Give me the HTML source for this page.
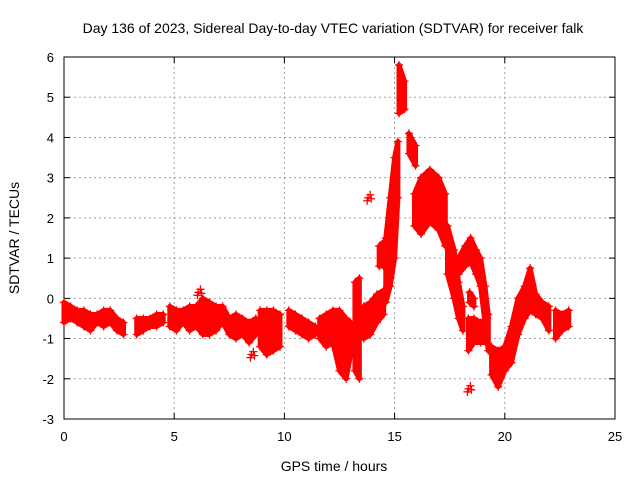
<!DOCTYPE html>
<html><head><meta charset="utf-8"><style>
body{margin:0;background:#fff}
svg{display:block;font-family:"Liberation Sans",sans-serif}
</style></head><body>
<svg id="chart" width="640" height="480" viewBox="0 0 640 480">
<rect width="640" height="480" fill="#fff"/>
<text x="333" y="33" font-size="14" text-anchor="middle">Day 136 of 2023, Sidereal Day-to-day VTEC variation (SDTVAR) for receiver falk</text>
<g id="grid"></g>
<g id="axes"></g>
<g id="marks"></g>
<text x="334" y="471" font-size="14" text-anchor="middle">GPS time / hours</text>
<text transform="translate(19,238) rotate(-90)" font-size="14" text-anchor="middle">SDTVAR / TECUs</text>
</svg>
<script>
const xTicks=[0,5,10,15,20,25];
const yTicks=[-3,-2,-1,0,1,2,3,4,5,6];
// null time = segment break
const times=[0,0.3,0.6,0.9,1.2,1.5,1.8,2.1,2.4,2.7,null,3.3,3.6,3.9,4.2,4.5,null,4.8,5.1,5.4,5.7,6.0,6.3,6.6,6.9,7.2,7.5,7.8,8.1,8.4,8.7,null,8.9,9.2,9.5,9.8,null,10.2,10.5,10.8,11.1,11.4,null,
11.6,11.9,12.2,12.5,12.8,13.0,null,13.2,13.4,null,13.6,13.9,14.2,14.5,null,14.3,14.5,null,14.6,14.8,15.0,15.15,null,15.2,15.45,null,15.65,15.95,null,
15.9,16.2,16.6,17.0,17.3,null,17.4,17.7,17.9,18.1,null,17.9,18.2,18.45,18.7,18.9,19.1,19.25,null,18.35,18.6,18.9,19.2,null,18.4,18.6,null,
19.4,19.7,20.0,20.3,20.6,20.9,21.15,21.4,21.7,22.0,null,22.3,22.6,22.9];
const lows=[-0.6,-0.5,-0.6,-0.7,-0.8,-0.6,-0.7,-0.6,-0.8,-0.9,null,-0.9,-0.8,-0.7,-0.7,-0.6,null,-0.7,-0.8,-0.6,-0.8,-0.7,-0.9,-0.9,-0.8,-0.6,-0.9,-1.0,-0.9,-1.1,-0.9,null,-1.2,-1.4,-1.3,-1.2,null,-0.7,-0.8,-0.9,-1.0,-0.9,null,
-1.0,-1.2,-1.1,-1.8,-2.0,-1.4,null,-1.8,-2.0,null,-1.0,-0.9,-0.6,-0.4,null,0.8,0.8,null,-0.1,0.3,1.0,2.5,null,4.6,4.7,null,3.6,3.3,null,
1.8,1.6,1.9,1.7,1.3,null,0.6,0.0,-0.5,-0.8,null,0.6,0.8,0.9,0.6,0.3,-0.6,-1.3,null,-1.3,-1.1,-1.1,-1.1,null,-0.1,-0.2,null,
-1.9,-2.2,-1.8,-1.6,-0.9,-0.5,-0.3,-0.4,-0.5,-0.8,null,-1.0,-0.8,-0.7];
const highs=[-0.1,-0.2,-0.3,-0.3,-0.4,-0.4,-0.3,-0.3,-0.5,-0.6,null,-0.5,-0.5,-0.5,-0.4,-0.4,null,-0.2,-0.3,-0.3,-0.2,-0.2,0.0,-0.1,-0.2,-0.2,-0.5,-0.4,-0.5,-0.6,-0.5,null,-0.3,-0.3,-0.3,-0.4,null,-0.3,-0.4,-0.5,-0.6,-0.7,null,
-0.5,-0.4,-0.3,-0.3,-0.5,-0.6,null,0.4,0.5,null,-0.2,-0.1,0.1,0.2,null,1.3,1.4,null,1.5,2.5,3.5,3.9,null,5.8,5.4,null,4.1,3.8,null,
2.6,3.0,3.2,3.0,2.6,null,1.8,1.2,0.4,-0.2,null,1.0,1.3,1.5,1.2,1.0,0.3,-0.4,null,-0.5,-0.5,-0.6,-0.5,null,0.15,0.0,null,
-1.2,-1.3,-1.2,-0.7,0.0,0.3,0.75,0.1,-0.1,-0.2,null,-0.3,-0.4,-0.3];
const extraT=[8.5,13.8,18.35,6.1];
const extraV=[-1.4,2.5,-2.25,0.15];
const X0=64,X1=615,Y0=419,Y1=57;
const xs=t=>X0+(t-0)/(25-0)*(X1-X0);
const ys=v=>Y0-(v-(-3))/(6-(-3))*(Y0-Y1);
const NS="http://www.w3.org/2000/svg";
const mk=(tag,attrs,parent)=>{const e=document.createElementNS(NS,tag);for(const k in attrs)e.setAttribute(k,attrs[k]);parent.appendChild(e);return e;};
const grid=document.getElementById('grid'),axes=document.getElementById('axes'),marks=document.getElementById('marks');
xTicks.forEach(t=>{const x=xs(t);
 if(t>0&&t<25){const l=mk('line',{x1:x,x2:x,y1:Y1,y2:Y0,stroke:'#a0a0a0','stroke-dasharray':'2,3'},grid);
 
 }
 mk('line',{x1:x,x2:x,y1:Y0,y2:Y0-6,stroke:'#000'},axes);mk('line',{x1:x,x2:x,y1:Y1,y2:Y1+6,stroke:'#000'},axes);
 const tx=mk('text',{x:x,y:Y0+22,'font-size':13,'text-anchor':'middle'},axes);tx.textContent=t;
 
 });
yTicks.forEach(v=>{const y=ys(v);
 if(v>-3&&v<6){const l=mk('line',{x1:X0,x2:X1,y1:y,y2:y,stroke:'#a0a0a0','stroke-dasharray':'2,3'},grid);
 
 }
 mk('line',{x1:X0,x2:X0+6,y1:y,y2:y,stroke:'#000'},axes);mk('line',{x1:X1,x2:X1-6,y1:y,y2:y,stroke:'#000'},axes);
 const tx=mk('text',{x:X0-10,y:y+5,'font-size':13,'text-anchor':'end'},axes);tx.textContent=v;
 
 });
mk('rect',{x:X0,y:Y1,width:X1-X0,height:Y0-Y1,fill:'none',stroke:'#000'},axes);
let seg=[];
const flush=()=>{if(!seg.length)return;
 const pts=seg.map(i=>xs(times[i])+','+ys(highs[i])).concat(seg.slice().reverse().map(i=>xs(times[i])+','+ys(lows[i])));
 const p=mk('polygon',{points:pts.join(' '),fill:'#f00',stroke:'#f00','stroke-width':5,'stroke-linejoin':'round'},marks);
 
 
 seg=[];};
times.forEach((t,i)=>{if(t===null)flush();else seg.push(i);});flush();
const plus=(x,y)=>{const g=mk('path',{d:`M${x-4},${y}H${x+4}M${x},${y-4}V${y+4}`,stroke:'#f00','stroke-width':1.3},marks);
 
 };
times.forEach((t,i)=>{if(t===null)return;plus(xs(t),ys(lows[i]));plus(xs(t),ys(highs[i]));});
extraT.forEach((t,i)=>{const x=xs(t),y=ys(extraV[i]);plus(x,y);plus(x+2,y-3);plus(x-1,y+3);plus(x+3,y+1);});
</script>
</body></html>
